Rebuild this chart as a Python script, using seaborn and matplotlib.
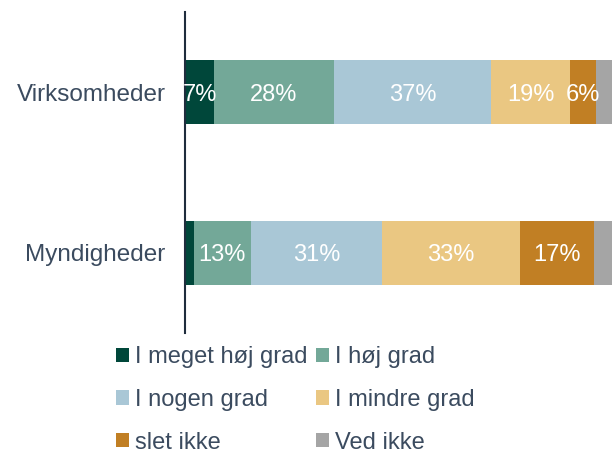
import numpy as np
import pandas as pd
import seaborn as sns
import matplotlib.pyplot as plt
from matplotlib.patches import Patch

# data
categories = ['Virksomheder', 'Myndigheder']
levels = ['I meget høj grad', 'I høj grad', 'I nogen grad', 'I mindre grad', 'slet ikke', 'Ved ikke']
virksomheder = [6.8, 28.1, 36.8, 18.5, 6.1, 3.7]
myndigheder = [2.1, 13.3, 30.7, 32.3, 17.3, 4.3]
labels_virk = ['7%', '28%', '37%', '19%', '6%', '']
labels_mynd = ['', '13%', '31%', '33%', '17%', '']
colors = ['#00473a', '#73a898', '#a9c7d6', '#eac782', '#c17f24', '#a5a5a5']

text_color = '#3b4b5f'

sns.set_theme(style='white')
plt.rcParams['font.family'] = ['Liberation Sans', 'DejaVu Sans']

df = pd.DataFrame([virksomheder, myndigheder], index=categories, columns=levels)
cum = df.cumsum(axis=1)

fig = plt.figure(figsize=(6.12, 4.5), dpi=100)
ax = fig.add_axes([185 / 612, 1 - 333 / 450, 1 - 185 / 612, 321 / 450])

# draw stacked bars from the widest cumulative layer down
for i in range(len(levels) - 1, -1, -1):
    layer = pd.DataFrame({'cat': categories, 'val': cum[levels[i]].values})
    sns.barplot(data=layer, x='val', y='cat', color=colors[i], width=0.4,
                saturation=1, orient='h', ax=ax, linewidth=0)

# percentage labels
for row, labs in enumerate([labels_virk, labels_mynd]):
    starts = cum.iloc[row].values - df.iloc[row].values
    for j, lab in enumerate(labs):
        if lab:
            ax.text(starts[j] + df.iloc[row].values[j] / 2, row, lab,
                    ha='center', va='center_baseline', color='white', fontsize=17)

ax.set_xlim(0, 100)
ax.set_ylim(1.5, -0.5)
ax.set_xlabel('')
ax.set_ylabel('')
ax.set_xticks([])
ax.tick_params(axis='y', length=0, pad=14, labelsize=17.5, labelcolor=text_color)
for s in ['top', 'right', 'bottom']:
    ax.spines[s].set_visible(False)
ax.spines['left'].set_color('#1f2d3d')
ax.spines['left'].set_linewidth(1.5)

# legend in row-major order with 2 columns
order = [0, 2, 4, 1, 3, 5]
handles = [Patch(facecolor=colors[k], edgecolor='none', label=levels[k]) for k in order]
fig.legend(handles=handles, ncol=2, loc='upper left',
           bbox_to_anchor=(116 / 612, 1 - 346 / 450), frameon=False,
           fontsize=17, labelcolor=text_color, handlelength=0.55, handleheight=0.55,
           handletextpad=0.25, columnspacing=0.38, labelspacing=0.88, borderpad=0,
           borderaxespad=0)

fig.savefig('out.png', dpi=100)
